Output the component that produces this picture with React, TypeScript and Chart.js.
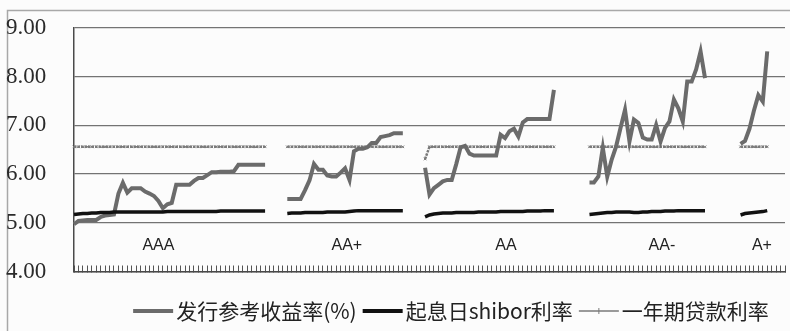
import React, { useEffect, useRef } from 'react';
import { Chart, registerables } from 'chart.js';

Chart.register(...registerables);

// Rating groups along the category axis, and empty categories after each group
const groupNames = ['AAA', 'AA+', 'AA', 'AA-', 'A+'];
const gapAfterGroup = [4, 4, 7, 7, 4];

// 发行参考收益率 (%) per rating group
const yieldAAA = [
  4.97, 5.04, 5.05, 5.06, 5.06, 5.06, 5.12, 5.15, 5.16, 5.17, 5.60, 5.82, 5.62, 5.71, 5.71,
  5.71, 5.64, 5.60, 5.55, 5.45, 5.30, 5.38, 5.41, 5.78, 5.78, 5.78, 5.78, 5.86, 5.92, 5.92,
  5.98, 6.04, 6.04, 6.05, 6.05, 6.05, 6.06, 6.19, 6.19, 6.19, 6.19, 6.19, 6.19, 6.19,
];
const yieldAAplus = [
  5.49, 5.49, 5.49, 5.49, 5.67, 5.87, 6.21, 6.09, 6.09, 5.97, 5.95, 5.95, 6.03, 6.12, 5.88,
  6.47, 6.52, 6.52, 6.55, 6.64, 6.64, 6.76, 6.78, 6.80, 6.84, 6.84, 6.84,
];
const yieldAA = [
  6.13, 5.58, 5.71, 5.78, 5.85, 5.88, 5.88, 6.20, 6.55, 6.58, 6.42, 6.38, 6.38, 6.38, 6.38,
  6.38, 6.38, 6.81, 6.74, 6.88, 6.93, 6.77, 7.06, 7.13, 7.13, 7.13, 7.13, 7.13, 7.13, 7.73,
];
const yieldAAminus = [
  5.83, 5.83, 5.95, 6.54, 5.95, 6.30, 6.57, 6.95, 7.32, 6.67, 7.12, 7.05, 6.75, 6.71, 6.71,
  7.01, 6.67, 6.95, 7.08, 7.53, 7.35, 7.08, 7.90, 7.90, 8.15, 8.52, 7.97,
];
const yieldAplus = [6.62, 6.68, 6.93, 7.30, 7.62, 7.49, 8.52];

// 起息日 shibor 利率 per rating group
const shiborAAA = [
  5.17, 5.18, 5.19, 5.19, 5.20, 5.20, 5.21, 5.21, 5.21, 5.22, 5.22, 5.22, 5.22, 5.22, 5.22,
  5.22, 5.22, 5.22, 5.22, 5.22, 5.22, 5.23, 5.23, 5.23, 5.23, 5.23, 5.23, 5.23, 5.23, 5.23,
  5.23, 5.23, 5.23, 5.24, 5.24, 5.24, 5.24, 5.24, 5.24, 5.24, 5.24, 5.24, 5.24, 5.24,
];
const shiborAAplus = [
  5.19, 5.20, 5.20, 5.20, 5.21, 5.21, 5.21, 5.21, 5.21, 5.22, 5.22, 5.22, 5.22, 5.22, 5.23,
  5.24, 5.25, 5.25, 5.25, 5.25, 5.25, 5.25, 5.25, 5.25, 5.25, 5.25, 5.25,
];
const shiborAA = [
  5.12, 5.16, 5.18, 5.19, 5.20, 5.20, 5.20, 5.21, 5.21, 5.21, 5.21, 5.21, 5.22, 5.22, 5.22,
  5.22, 5.22, 5.23, 5.23, 5.23, 5.23, 5.23, 5.23, 5.24, 5.24, 5.24, 5.24, 5.25, 5.25, 5.25,
];
const shiborAAminus = [
  5.17, 5.18, 5.19, 5.20, 5.21, 5.21, 5.22, 5.22, 5.22, 5.22, 5.21, 5.21, 5.22, 5.22, 5.23,
  5.23, 5.23, 5.24, 5.24, 5.24, 5.25, 5.25, 5.25, 5.25, 5.25, 5.25, 5.25,
];
const shiborAplus = [5.16, 5.19, 5.20, 5.21, 5.22, 5.23, 5.25];

// 一年期贷款利率 per rating group
const loanAAA = [
  6.56, 6.56, 6.56, 6.56, 6.56, 6.56, 6.56, 6.56, 6.56, 6.56, 6.56, 6.56, 6.56, 6.56, 6.56,
  6.56, 6.56, 6.56, 6.56, 6.56, 6.56, 6.56, 6.56, 6.56, 6.56, 6.56, 6.56, 6.56, 6.56, 6.56,
  6.56, 6.56, 6.56, 6.56, 6.56, 6.56, 6.56, 6.56, 6.56, 6.56, 6.56, 6.56, 6.56, 6.56,
];
const loanAAplus = [
  6.56, 6.56, 6.56, 6.56, 6.56, 6.56, 6.56, 6.56, 6.56, 6.56, 6.56, 6.56, 6.56, 6.56, 6.56,
  6.56, 6.56, 6.56, 6.56, 6.56, 6.56, 6.56, 6.56, 6.56, 6.56, 6.56, 6.56,
];
const loanAA = [
  6.31, 6.56, 6.56, 6.56, 6.56, 6.56, 6.56, 6.56, 6.56, 6.56, 6.56, 6.56, 6.56, 6.56, 6.56,
  6.56, 6.56, 6.56, 6.56, 6.56, 6.56, 6.56, 6.56, 6.56, 6.56, 6.56, 6.56, 6.56, 6.56, 6.56,
];
const loanAAminus = [
  6.56, 6.56, 6.56, 6.56, 6.56, 6.56, 6.56, 6.56, 6.56, 6.56, 6.56, 6.56, 6.56, 6.56, 6.56,
  6.56, 6.56, 6.56, 6.56, 6.56, 6.56, 6.56, 6.56, 6.56, 6.56, 6.56, 6.56,
];
const loanAplus = [6.56, 6.56, 6.56, 6.56, 6.56, 6.56, 6.56];

// Value-axis tick labels
const yTickLabels = ['4.00', '5.00', '6.00', '7.00', '8.00', '9.00'];

const legendLabels = ['发行参考收益率(%)', '起息日shibor利率', '一年期贷款利率'];

// Where each rating name sits: category index and value on the y axis
const groupLabelIndex = [19, 61.4, 97.2, 132.3, 154.8];
const groupLabelValue = 4.53;

function joinGroups(parts: number[][]): (number | null)[] {
  const out: (number | null)[] = [];
  parts.forEach((p, g) => {
    out.push(...p);
    for (let k = 0; k < gapAfterGroup[g]; k++) out.push(null);
  });
  return out;
}

function buildCategories(parts: number[][]): string[] {
  const out: string[] = [];
  parts.forEach((p, g) => {
    p.forEach((_, k) => out.push(`${groupNames[g]}-${k + 1}`));
    for (let k = 0; k < gapAfterGroup[g]; k++) out.push('');
  });
  return out;
}

const categories = buildCategories([yieldAAA, yieldAAplus, yieldAA, yieldAAminus, yieldAplus]);
const yieldSeries = joinGroups([yieldAAA, yieldAAplus, yieldAA, yieldAAminus, yieldAplus]);
const shiborSeries = joinGroups([shiborAAA, shiborAAplus, shiborAA, shiborAAminus, shiborAplus]);
const loanSeries = joinGroups([loanAAA, loanAAplus, loanAA, loanAAminus, loanAplus]);

const YIELD_COLOR = '#6b6b6b';
const SHIBOR_COLOR = '#111111';
const LOAN_COLOR = '#7a7a7a';

const SERIF = '"Liberation Serif", "DejaVu Serif", serif';
const SANS = '"Liberation Sans", Arial, sans-serif';
const CJK = '"Noto Sans CJK SC", sans-serif';

const framePlugin = {
  id: 'frame',
  beforeDraw(chart: any) {
    const { ctx, width, height } = chart;
    ctx.save();
    ctx.fillStyle = '#fcfcfc';
    ctx.fillRect(0, 0, width, height);
    ctx.strokeStyle = '#a8a8a8';
    ctx.lineWidth = 1.5;
    ctx.beginPath();
    ctx.moveTo(7.5, height);
    ctx.lineTo(7.5, 10.5);
    ctx.lineTo(width, 10.5);
    ctx.stroke();
    ctx.restore();
  },
};

const groupLabelPlugin = {
  id: 'groupLabels',
  afterDatasetsDraw(chart: any) {
    const { ctx, scales } = chart;
    ctx.save();
    ctx.font = `16px ${SANS}`;
    ctx.fillStyle = '#222';
    ctx.textAlign = 'center';
    ctx.textBaseline = 'middle';
    groupNames.forEach((name, i) => {
      const x = scales.x.getPixelForValue(groupLabelIndex[i]);
      const y = scales.y.getPixelForValue(groupLabelValue);
      ctx.fillText(name, x, y);
    });
    ctx.restore();
  },
};

const legendPlugin = {
  id: 'bottomLegend',
  afterDraw(chart: any) {
    const { ctx } = chart;
    const lineLen = 40;
    const gapLineText = 3;
    const gapItems = 6;
    const y = 311;
    ctx.save();
    ctx.font = `21px ${CJK}`;
    ctx.textBaseline = 'middle';
    const widths = legendLabels.map((t) => ctx.measureText(t).width);
    const total =
      widths.reduce((a, b) => a + b, 0) +
      legendLabels.length * (lineLen + gapLineText) +
      gapItems * (legendLabels.length - 1);
    let x = 451 - total / 2;
    const styles = [
      { color: YIELD_COLOR, width: 4, marker: false },
      { color: SHIBOR_COLOR, width: 4, marker: false },
      { color: LOAN_COLOR, width: 1.5, marker: true },
    ];
    legendLabels.forEach((label, i) => {
      const s = styles[i];
      ctx.strokeStyle = s.color;
      ctx.lineWidth = s.width;
      ctx.beginPath();
      ctx.moveTo(x, y);
      ctx.lineTo(x + lineLen, y);
      ctx.stroke();
      if (s.marker) {
        const cx = x + lineLen / 2;
        ctx.lineWidth = 1;
        ctx.beginPath();
        ctx.moveTo(cx, y - 3);
        ctx.lineTo(cx, y + 3);
        ctx.stroke();
      }
      x += lineLen + gapLineText;
      ctx.fillStyle = '#222';
      ctx.textAlign = 'left';
      ctx.fillText(label, x, y);
      x += widths[i] + gapItems;
    });
    ctx.restore();
  },
};

export default function App() {
  const canvasRef = useRef<HTMLCanvasElement | null>(null);

  useEffect(() => {
    if (!canvasRef.current) return;
    const chart = new Chart(canvasRef.current, {
      type: 'line',
      data: {
        labels: categories,
        datasets: [
          {
            label: legendLabels[0],
            data: yieldSeries,
            borderColor: YIELD_COLOR,
            borderWidth: 4,
            pointRadius: 0,
            tension: 0,
            spanGaps: false,
            order: 1,
          },
          {
            label: legendLabels[1],
            data: shiborSeries,
            borderColor: SHIBOR_COLOR,
            borderWidth: 3.5,
            pointRadius: 0,
            tension: 0,
            spanGaps: false,
            order: 0,
          },
          {
            label: legendLabels[2],
            data: loanSeries,
            borderColor: LOAN_COLOR,
            borderWidth: 2.5,
            borderDash: [2.5, 1],
            pointStyle: 'crossRot',
            pointRadius: 1.8,
            pointBorderWidth: 1,
            pointBorderColor: LOAN_COLOR,
            tension: 0,
            spanGaps: false,
            order: 2,
          },
        ],
      },
      options: {
        animation: false,
        responsive: true,
        maintainAspectRatio: false,
        devicePixelRatio: 1,
        layout: { padding: { left: 6, right: 2, top: 28, bottom: 59.5 } },
        plugins: {
          legend: { display: false },
          tooltip: { enabled: false },
        },
        scales: {
          x: {
            type: 'category',
            offset: false,
            grid: {
              display: true,
              drawOnChartArea: false,
              drawTicks: true,
              tickLength: -6,
              color: '#555',
              lineWidth: 1,
            },
            border: { display: true, color: '#4a4a4a', width: 1.5 },
            ticks: { display: false },
            afterFit(scale: any) {
              scale.height = 0;
            },
          },
          y: {
            min: 4,
            max: 9,
            ticks: {
              stepSize: 1,
              padding: 0,
              crossAlign: 'far',
              color: '#2a2a2a',
              font: { family: SERIF, size: 23 },
              callback: (v: any) => yTickLabels[Math.round(Number(v)) - 4] ?? '',
            },
            grid: { color: '#737373', lineWidth: 1.3, drawTicks: false },
            border: { display: true, color: '#4a4a4a', width: 1.5 },
            afterFit(scale: any) {
              scale.width = 68;
            },
          },
        },
      },
      plugins: [framePlugin, groupLabelPlugin, legendPlugin],
    });

    // Redraw once the named fonts are ready so canvas text uses them
    let alive = true;
    Promise.all([
      document.fonts.load(`23px ${SERIF}`, '9.00'),
      document.fonts.load(`16px ${SANS}`, 'AAA'),
      document.fonts.load(`21px ${CJK}`, legendLabels.join('')),
    ])
      .catch(() => undefined)
      .then(() => {
        if (alive) chart.update();
      });

    return () => {
      alive = false;
      chart.destroy();
    };
  }, []);

  return (
    <div style={{ position: 'fixed', left: 0, top: 0, width: 790, height: 331 }}>
      <canvas ref={canvasRef} />
    </div>
  );
}
